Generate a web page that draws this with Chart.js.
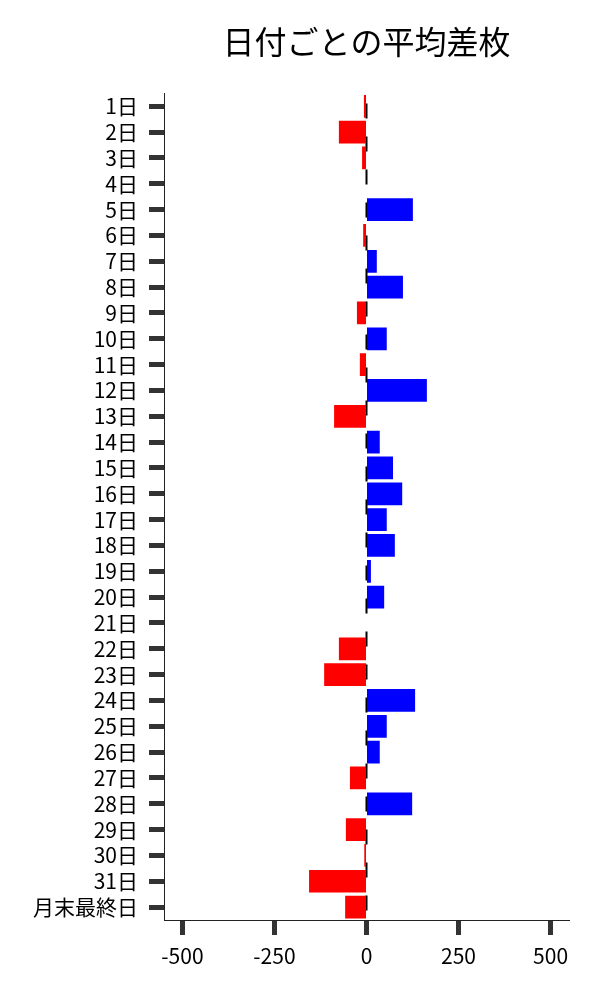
<!DOCTYPE html>
<html lang="ja">
<head>
<meta charset="utf-8">
<title>日付ごとの平均差枚</title>
<script src="https://cdn.jsdelivr.net/npm/chart.js@4/dist/chart.umd.min.js"></script>
<style>
  html, body { margin: 0; padding: 0; background: #fff; }
  #wrap { width: 600px; height: 1000px; position: relative; }
</style>
</head>
<body>
<div id="wrap"><canvas id="diffChart"></canvas></div>
<script>
// Average coin difference per day of month
const DAYS = [
    '1日', '2日', '3日', '4日', '5日', '6日', '7日', '8日', '9日', '10日',
    '11日', '12日', '13日', '14日', '15日', '16日', '17日', '18日', '19日', '20日',
    '21日', '22日', '23日', '24日', '25日', '26日', '27日', '28日', '29日', '30日',
    '31日', '月末最終日'
];
const AVG_DIFF = [
    -7, -75, -12, 0, 126, -9, 28, 99, -26, 55,
    -18, 164, -88, 36, 72, 97, 55, 77, 12, 48,
    0, -75, -115, 132, 55, 36, -45, 124, -56, -6,
    -156, -58
];
const X_TICKS = [-500, -250, 0, 250, 500];
const X_MIN = -550;
const X_MAX = 550;

const FONT = '"Noto Sans CJK JP", "Noto Sans", sans-serif';

// dashed zero line, drawn under the bars
const zeroLine = {
    id: 'zeroLine',
    beforeDatasetsDraw(chart) {
        const { ctx, chartArea, scales } = chart;
        const x = scales.x.getPixelForValue(0);
        ctx.save();
        ctx.strokeStyle = '#000';
        ctx.lineWidth = 2;
        ctx.setLineDash([15, 18]);
        ctx.beginPath();
        ctx.moveTo(x, chartArea.top + 10);
        ctx.lineTo(x, chartArea.bottom);
        ctx.stroke();
        ctx.restore();
    }
};

new Chart(document.getElementById('diffChart'), {
    type: 'bar',
    data: {
        labels: DAYS,
        datasets: [{
            label: '平均差枚',
            data: AVG_DIFF,
            backgroundColor: AVG_DIFF.map(v => v < 0 ? '#ff0000' : '#0000ff'),
            borderWidth: 0,
            barPercentage: 0.88,
            categoryPercentage: 1
        }]
    },
    options: {
        indexAxis: 'y',
        responsive: true,
        maintainAspectRatio: false,
        animation: false,
        layout: { padding: { left: 0, right: 31, top: 0, bottom: 0 } },
        plugins: {
            legend: { display: false },
            tooltip: { enabled: false },
            title: {
                display: true,
                text: '日付ごとの平均差枚',
                color: '#000',
                fullSize: false,
                font: { family: FONT, size: 32, weight: 'normal' },
                padding: { top: 23, bottom: 32 }
            }
        },
        scales: {
            x: {
                type: 'linear',
                min: X_MIN,
                max: X_MAX,
                afterBuildTicks: s => { s.ticks = X_TICKS.map(v => ({ value: v })); },
                afterFit: s => { s.height = 80; },
                ticks: {
                    color: '#000',
                    font: { family: FONT, size: 21 },
                    padding: 8,
                    maxRotation: 0
                },
                grid: {
                    drawOnChartArea: false,
                    drawTicks: true,
                    tickLength: 15,
                    tickWidth: 5,
                    tickColor: '#333'
                },
                border: { display: true, color: '#222', width: 1 }
            },
            y: {
                type: 'category',
                afterFit: s => { s.width = 164; },
                ticks: {
                    color: '#000',
                    font: { family: FONT, size: 21 },
                    padding: 11,
                    autoSkip: false
                },
                grid: {
                    offset: false,
                    drawOnChartArea: false,
                    drawTicks: true,
                    tickLength: 15,
                    tickWidth: 5,
                    tickColor: '#333'
                },
                border: { display: true, color: '#222', width: 1 }
            }
        }
    },
    plugins: [zeroLine]
});
</script>
</body>
</html>
